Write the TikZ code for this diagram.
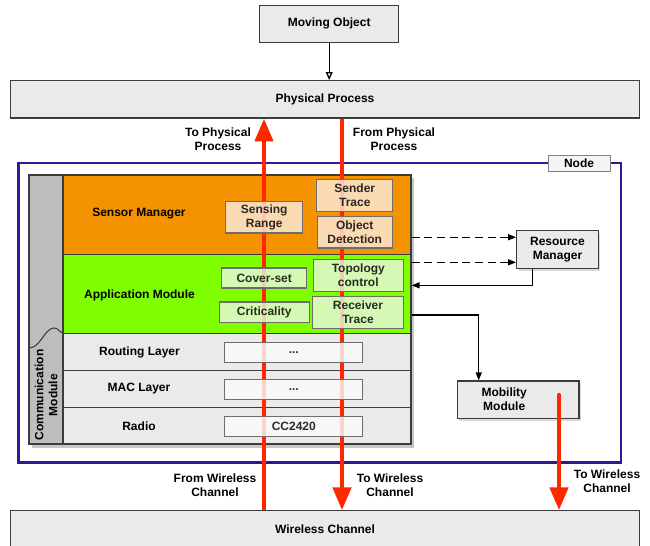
\documentclass[tikz,border=0pt]{standalone}
\usepackage{fontspec}
\setmainfont{Liberation Sans}
\usetikzlibrary{arrows.meta, shadows}

\definecolor{nodeframe}{RGB}{48,24,152}
\definecolor{sensorfill}{RGB}{245,146,0}
\definecolor{appfill}{RGB}{128,255,0}
\definecolor{layerfill}{RGB}{234,234,234}
\definecolor{commfill}{RGB}{190,190,190}
\definecolor{sensorsub}{RGB}{252,234,218}
\definecolor{appsub}{RGB}{232,248,220}
\definecolor{stacksub}{RGB}{250,250,250}
\definecolor{flowred}{RGB}{255,38,0}
\definecolor{boxline}{RGB}{60,60,60}

\tikzset{
  lbl/.style={font=\bfseries\fontsize{9}{10.5}\selectfont, align=center, inner sep=0pt},
  panel/.style={lbl, draw=boxline, line width=0.9pt, fill=layerfill, inner sep=1pt},
  shadowed/.style={drop shadow={shadow xshift=1.5pt, shadow yshift=-1.8pt, opacity=0.3}},
  layer/.style={draw=boxline, line width=0.9pt, minimum width=261pt, inner sep=0pt},
  subbox/.style={lbl, draw=boxline!75, line width=0.8pt, fill opacity=0.82, inner sep=1pt},
  flow/.style={flowred, line width=3.3pt, -{Triangle[length=17pt, width=13.5pt]}},
  ctrl/.style={black, line width=1pt, -{Triangle[length=6pt, width=4.5pt]}},
}

\begin{document}
\begin{tikzpicture}[x=0.75pt, y=-0.75pt]

\path[use as bounding box] (0,0) rectangle (650,546);
\clip (0,0) rectangle (650,546);

% ---- ENVIRONMENT ----
\node[panel, minimum width=104.25pt, minimum height=27.75pt] (moving) at (329.2,23.6) {Moving Object};
\node[panel, minimum width=471.75pt, minimum height=28pt] (physical) at (325,99.4) {Physical Process};
\node[panel, minimum width=471.75pt, minimum height=28pt] (wireless) at (325,529.4) {Wireless Channel};
\draw[ctrl, -{Triangle[open, length=6pt, width=5pt]}] (moving.south) -- (moving.south |- physical.north);

% ---- NODE ----
\draw[nodeframe, line width=1.6pt] (18.5,163.3) rectangle (621,462.5);
\node[lbl, draw=gray, fill=black!4, line width=0.6pt, minimum width=46.5pt, minimum height=12pt] (nodetab) at (579,163) {Node};

% Stack
\fill[black, opacity=0.22] (32,178) rectangle (414,447.5);
\node[layer, fill=commfill, minimum width=25.5pt, minimum height=201.75pt] (commcol) at (46,309.5) {};
\node[layer, fill=sensorfill, minimum height=59.5pt] (sensor) at (237,214.65) {};
\node[layer, fill=appfill, minimum height=59.5pt] (app) at (237,294) {};
\node[layer, fill=layerfill, minimum height=27.75pt] (routing) at (237,352.2) {};
\node[layer, fill=layerfill, minimum height=27.75pt] (mac) at (237,389.2) {};
\node[layer, fill=layerfill, minimum height=27.2pt] (radio) at (237,425.85) {};
\draw[boxline, line width=0.8pt] (29,348) .. controls (40,348) and (44,330) .. (53,328)
    .. controls (58,327) and (60,333) .. (63,333);
\node[lbl, rotate=90] (commlbl) at (46,395) {Communication\\Module};

\node[lbl] (sensorlbl) at (139,213.3) {Sensor Manager};
\node[lbl] (applbl) at (139.5,295) {Application Module};
\node[lbl] (routinglbl) at (139.5,352) {Routing Layer};
\node[lbl] (maclbl) at (139,389) {MAC Layer};
\node[lbl] (radiolbl) at (139,426) {Radio};

% Red flows through the stack
\coordinate (tophys) at (264,0);
\coordinate (fromphys) at (342,0);
\draw[flow] (wireless.north -| tophys) -- (physical.south -| tophys);
\draw[flow] (physical.south -| fromphys) -- (wireless.north -| fromphys);

% Sub-modules
\node[subbox, fill=sensorsub, minimum width=57.75pt, minimum height=23.5pt] (sensing) at (264.2,217.3) {Sensing\\Range};
\node[subbox, fill=sensorsub, minimum width=57.2pt, minimum height=24.3pt] (sender) at (354.8,195.5) {Sender\\Trace};
\node[subbox, fill=sensorsub, minimum width=56pt, minimum height=23.5pt] (objdet) at (354.7,232.3) {Object\\Detection};
\node[subbox, fill=appsub, minimum width=63.75pt, minimum height=15pt] (coverset) at (264.2,278) {Cover-set};
\node[subbox, fill=appsub, minimum width=67.7pt, minimum height=15.5pt] (critical) at (264.2,312.3) {Criticality};
\node[subbox, fill=appsub, minimum width=67.5pt, minimum height=23.8pt] (topology) at (358.3,275.2) {Topology\\control};
\node[subbox, fill=appsub, minimum width=68pt, minimum height=23.7pt] (receiver) at (358,312.5) {Receiver\\Trace};
\node[subbox, fill=stacksub, minimum width=103.3pt, minimum height=14.7pt] (routingbox) at (293.8,352.5) {...};
\node[subbox, fill=stacksub, minimum width=103.3pt, minimum height=14.7pt] (macbox) at (293.8,389.3) {...};
\node[subbox, fill=stacksub, minimum width=103.3pt, minimum height=14.7pt] (radiobox) at (293.8,426.7) {CC2420};

% ---- RESOURCE AND MOBILITY ----
\node[panel, shadowed, minimum width=61.2pt, minimum height=28.2pt] (resource) at (557.5,249.5) {Resource\\Manager};
\node[panel, shadowed, minimum width=91.3pt, minimum height=28pt,
      label={[lbl, xshift=-10.5pt]center:Mobility\\Module}] (mobility) at (518.2,399.7) {};

\coordinate (rmin1) at ([yshift=9.2pt]resource.west);
\coordinate (rmin2) at ([yshift=-9.6pt]resource.west);
\coordinate (rmout) at ([xshift=-18.6pt]resource.south);
\coordinate (appin) at ([yshift=6.5pt]app.east);
\coordinate (appout) at ([yshift=-15.75pt]app.east);
\coordinate (mmin) at ([xshift=-29.6pt]mobility.north);
\coordinate (mmred) at ([xshift=30.6pt, yshift=3.5pt]mobility.center);

\draw[ctrl, dashed, dash pattern=on 6pt off 3.5pt] (rmin1 -| sensor.east) -- (rmin1);
\draw[ctrl, dashed, dash pattern=on 6pt off 3.5pt] (rmin2 -| app.east) -- (rmin2);
\draw[ctrl] (rmout) |- (appin);
\draw[ctrl] (appout) -| (mmin);
\draw[flow, line cap=round] (mmred) -- (mmred |- wireless.north);

% ---- FLOW LABELS ----
\node[lbl] (tophyslbl) at (218,139.7) {To Physical\\Process};
\node[lbl] (fromphyslbl) at (394,139.7) {From Physical\\Process};
\node[lbl] (fromwllbl) at (215,485) {From Wireless\\Channel};
\node[lbl] (towllbl) at (390,485) {To Wireless\\Channel};
\node[lbl] (mobwllbl) at (607,481) {To Wireless\\Channel};

\end{tikzpicture}
\end{document}
